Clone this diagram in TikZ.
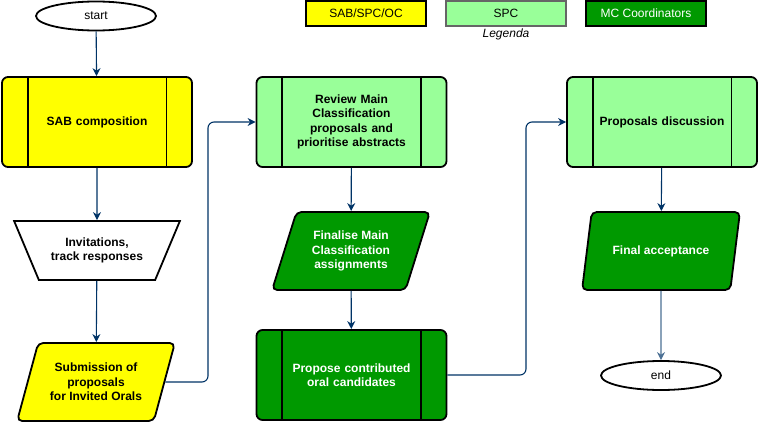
\documentclass[tikz,border=0pt]{standalone}
\usepackage{fontspec}
\setmainfont{Liberation Sans}
\usetikzlibrary{shapes.geometric,arrows.meta,positioning}
\definecolor{sabyellow}{RGB}{255,255,0}
\definecolor{spcgreen}{RGB}{153,255,153}
\definecolor{mcgreen}{RGB}{0,153,0}
\definecolor{flowblue}{RGB}{0,51,102}

\begin{document}
\begin{tikzpicture}[x=1pt, y=-1pt, font=\fontsize{12}{14.5}\selectfont]
    \tikzset{procbox/.style={rectangle, rounded corners=6, draw=black, line width=1.8pt, minimum width=190, minimum height=90, text width=150, align=center, font=\bfseries\fontsize{12}{14.5}\selectfont}}
    \tikzset{databox/.style={trapezium, trapezium left angle=68, trapezium right angle=112, trapezium stretches=true, minimum width=158, minimum height=78, rounded corners=5, draw=black, line width=1.8pt, align=center, font=\bfseries\fontsize{12}{14.5}\selectfont}}
    \tikzset{termbox/.style={ellipse, draw=black, line width=1.8pt, minimum width=120, minimum height=29}}
    \tikzset{legbox/.style={rectangle, draw=black, line width=1.3pt, minimum width=120, minimum height=25}}
    \tikzset{flow/.style={draw=flowblue, line width=1.1pt, rounded corners=6, -{Stealth[length=8pt, width=8pt]}}}
    \useasboundingbox (0,0) rectangle (758,423);

    % LEGEND
    \node[legbox, fill=sabyellow] (legsab) at (366,13.5) {SAB/SPC/OC};
    \node[legbox, fill=spcgreen, draw=black!60] (legspc) at (506,13.5) {SPC};
    \node[legbox, fill=mcgreen, text=white] (legmc) at (646,13.5) {MC Coordinators};
    \node[font=\itshape\fontsize{12}{14}\selectfont] (legtxt) at (506,34.5) {Legenda};

    % FIRST COLUMN
    \node[termbox] (start) at (96,16) {start};
    \node[procbox, fill=sabyellow] (sab) at (97,122) {SAB composition};
    \node[trapezium, trapezium angle=57, shape border rotate=180, trapezium stretches=true, minimum width=166, minimum height=59, draw=black, line width=1.8pt, align=center, font=\bfseries\fontsize{12}{14.5}\selectfont] (invite) at (97,250.5) {Invitations,\\track responses};
    \node[databox, fill=sabyellow] (submit) at (96,382) {Submission of\\proposals\\for Invited Orals};

    % SECOND COLUMN
    \node[procbox, fill=spcgreen] (review) at (351.5,122) {Review Main\\Classification\\proposals and\\prioritise abstracts};
    \node[databox, fill=mcgreen, text=white] (finalise) at (351,251) {Finalise Main\\Classification\\assignments};
    \node[procbox, fill=mcgreen, text=white] (propose) at (351.5,375) {Propose contributed\\oral candidates};

    % THIRD COLUMN
    \node[procbox, fill=spcgreen] (discuss) at (662,122) {Proposals discussion};
    \node[databox, fill=mcgreen, text=white] (accept) at (661,251) {Final acceptance};
    \node[termbox] (end) at (661,375.5) {end};

    % INNER BARS OF PROCESS BOXES
    \foreach \n in {sab, review, propose, discuss} {
        \draw[line width=1.8pt] ([xshift=26.5]\n.north west) -- ([xshift=26.5]\n.south west);
        \draw[line width=1.8pt] ([xshift=-26.5]\n.north east) -- ([xshift=-26.5]\n.south east);
    }

    % CONNECTORS
    \draw[flow] (start) -- (sab);
    \draw[flow] (sab) -- (invite);
    \draw[flow] (invite) -- (submit);
    \draw[flow] (submit.east) -| (208,122) -- (review.west);
    \draw[flow] (review) -- (finalise);
    \draw[flow] (finalise) -- (propose);
    \draw[flow] (propose.east) -| (526,122) -- (discuss.west);
    \draw[flow] (discuss) -- (accept);
    \draw[flow, draw=flowblue!70] (accept) -- (end);
\end{tikzpicture}
\end{document}
